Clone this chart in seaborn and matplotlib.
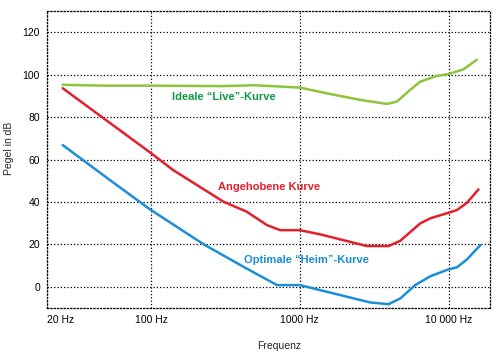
import numpy as np
import pandas as pd
import seaborn as sns
import matplotlib.pyplot as plt

# values (Hz, dB)
live_freq = [25.5, 50, 100, 300, 500, 1000, 1520, 2550, 3860, 4500, 5520, 6450, 8350, 10000, 12600, 15500]
live_level = [95.2, 94.8, 94.8, 94.6, 95.0, 93.9, 91.2, 88.1, 86.2, 87.3, 92.8, 96.7, 99.4, 100.3, 102.5, 107.0]

raised_freq = [25.5, 100, 141, 307, 440, 601, 739, 1000, 1375, 2830, 3950, 4740,
               6460, 7560, 10000, 11400, 13300, 15900]
raised_level = [93.6, 63.0, 55.0, 40.1, 35.4, 29.1, 26.7, 26.7, 24.7, 19.2, 19.2, 21.7,
                29.9, 32.3, 34.9, 36.2, 39.6, 45.9]

home_freq = [25.5, 53, 98, 225, 419, 703, 1000, 1375, 2980, 3950, 4740, 5970,
             7560, 10000, 11400, 13300, 16400]
home_level = [66.8, 50.3, 36.6, 20.1, 9.4, 0.8, 0.8, -1.6, -7.4, -8.2, -5.5, 0.8,
              5.0, 8.2, 9.2, 12.9, 19.7]

y_ticks = [0, 20, 40, 60, 80, 100, 120]
x_ticks = [20, 100, 1000, 10000]
x_labels = ['20 Hz', '100 Hz', '1000 Hz', '10 000 Hz']

sns.set_style('white')
plt.rcParams['font.family'] = ['Liberation Sans', 'DejaVu Sans']

fig = plt.figure(figsize=(5, 3.52), dpi=100)
ax = fig.add_axes([47 / 500, 1 - 308 / 352, 443 / 500, 297 / 352])

curves = [
    (live_freq, live_level, '#8cc43c'),
    (raised_freq, raised_level, '#e3202a'),
    (home_freq, home_level, '#1a8fd8'),
]
for f, lv, col in curves:
    df = pd.DataFrame({'f': f, 'level': lv})
    sns.lineplot(data=df, x='f', y='level', color=col, linewidth=1.8, ax=ax)

ax.set_xscale('log')
ax.set_xlim(20, 19000)
ax.set_ylim(-10, 130)

ax.set_yticks(y_ticks)
ax.set_xticks(x_ticks)
ax.set_xticklabels(x_labels)
ax.xaxis.set_minor_locator(plt.NullLocator())
ax.get_xticklabels()[0].set_horizontalalignment('left')
ax.tick_params(axis='both', length=0, labelsize=7.5, colors='black', pad=5)

ax.grid(True, color='black', linestyle=':', linewidth=0.9)
for s in ax.spines.values():
    s.set_color('black')
    s.set_linestyle(':')
    s.set_linewidth(0.9)

ax.set_xlabel('Frequenz', fontsize=7.5)
ax.xaxis.set_label_coords((279 - 47) / 443, -33 / 297)
ax.set_ylabel('Pegel in dB', fontsize=7.5)
ax.yaxis.set_label_coords(-33 / 443, (308 - 148) / 297)

ax.text(138, 89.6, 'Ideale “Live”-Kurve', color='#119944', fontsize=8,
        fontweight='bold', ha='left', va='center')
ax.text(284, 46.9, 'Angehobene Kurve', color='#e3202a', fontsize=8,
        fontweight='bold', ha='left', va='center')
ax.text(419, 12.6, 'Optimale “Heim”-Kurve', color='#1a8fd8', fontsize=8,
        fontweight='bold', ha='left', va='center')

fig.savefig('out.png', dpi=100)
